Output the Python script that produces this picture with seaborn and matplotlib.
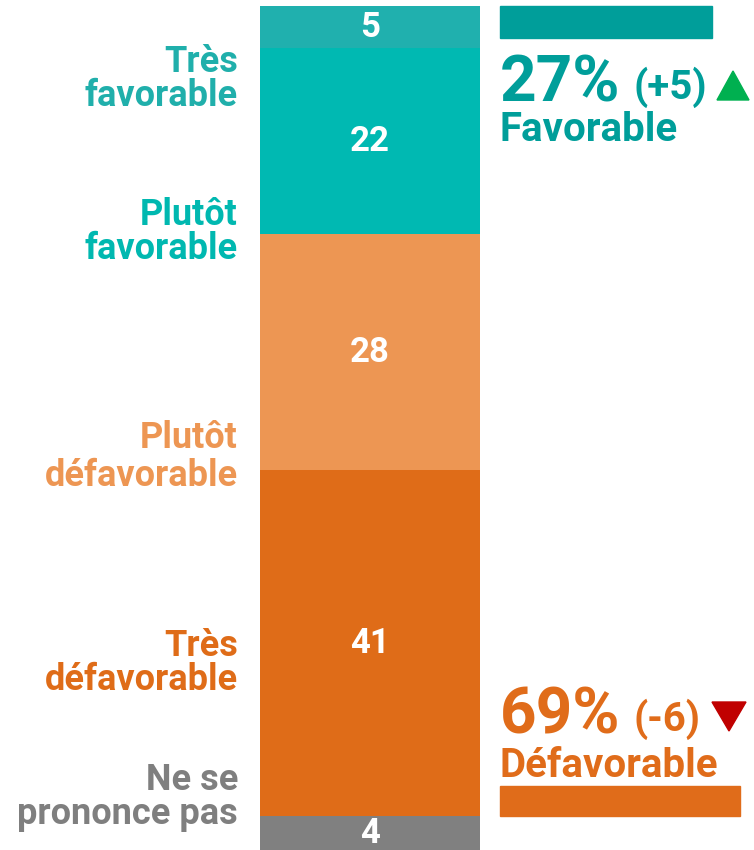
import matplotlib
matplotlib.use('Agg')
import matplotlib.pyplot as plt
import matplotlib.patches as mpatches
from matplotlib.transforms import Affine2D
import pandas as pd
import seaborn as sns

# segments from top to bottom
segments = ['Très favorable', 'Plutôt favorable', 'Plutôt défavorable', 'Très défavorable', 'Ne se prononce pas']
values = [5, 22, 28, 41, 4]
bar_colors = ['#20B0AE', '#00B9B2', '#ED9653', '#DF6C18', '#808080']
label_texts = ['Très\nfavorable', 'Plutôt\nfavorable', 'Plutôt\ndéfavorable', 'Très\ndéfavorable', 'Ne se\nprononce pas']
label_colors = ['#20AFAB', '#00B8B0', '#ED9653', '#DF6C18', '#7F7F7F']
label_y_px = [79, 232, 457, 663, 797]
label_spacing = [0.92, 0.92, 1.1, 0.92, 0.92]

fav_total, fav_delta = 27, '+5'
defav_total, defav_delta = 69, '-6'

W, H = 754, 850
FONT = 'Roboto'

sns.set_theme(style='white')
plt.rcParams['font.family'] = [FONT, 'DejaVu Sans']

fig = plt.figure(figsize=(W / 100, H / 100), dpi=100)
ax = fig.add_axes([0, 0, 1, 844 / 850])

df = pd.DataFrame({'segment': segments, 'value': values, 'color': bar_colors})
# cumulative height from the bottom of the stack
df['top'] = df['value'][::-1].cumsum()[::-1]
df['mid'] = df['top'] - df['value'] / 2

for _, row in df.iterrows():
    sns.barplot(x=['q'], y=[row['top']], color=row['color'], saturation=1,
                width=0.8, linewidth=0, ax=ax)

for _, row in df.iterrows():
    ax.text(0, row['mid'], str(row['value']), ha='center', va='center',
            color='white', fontsize=25, fontweight='bold')

ax.set_ylim(0, 100)
ax.set_xlim(-370 / 275, (W - 370) / 275)
ax.axis('off')

# pixel coords measured from top-left corner
px = Affine2D().scale(1 / W, -1 / H).translate(0, 1) + fig.transFigure

for txt, col, y, ls in zip(label_texts, label_colors, label_y_px, label_spacing):
    fig.text(238, y, txt, transform=px, ha='right', va='center', color=col,
             fontsize=26, fontweight='bold', linespacing=ls)

teal = '#009E9A'
orange = '#E06C1A'

fig.patches.append(mpatches.Rectangle((500, 6), 212, 32, transform=px, color=teal))
fig.text(500, 101, f'{fav_total}%', transform=px, va='baseline', color=teal, fontsize=46, fontweight='bold')
fig.text(634, 99, f'({fav_delta})', transform=px, va='baseline', color=teal, fontsize=29, fontweight='bold')
fig.patches.append(mpatches.Polygon([(717, 100), (749, 100), (733, 71)], transform=px, color='#00B050'))
fig.text(500, 141, 'Favorable', transform=px, va='baseline', color=teal, fontsize=29, fontweight='bold')

fig.text(500, 734, f'{defav_total}%', transform=px, va='baseline', color=orange, fontsize=46, fontweight='bold')
fig.text(634, 731, f'({defav_delta})', transform=px, va='baseline', color=orange, fontsize=29, fontweight='bold')
fig.patches.append(mpatches.Polygon([(712, 702), (746, 702), (729, 731)], transform=px, color='#C00000'))
fig.text(500, 777, 'Défavorable', transform=px, va='baseline', color=orange, fontsize=29, fontweight='bold')
fig.patches.append(mpatches.Rectangle((500, 786), 240, 30, transform=px, color=orange))

fig.savefig('out.png', dpi=100)
